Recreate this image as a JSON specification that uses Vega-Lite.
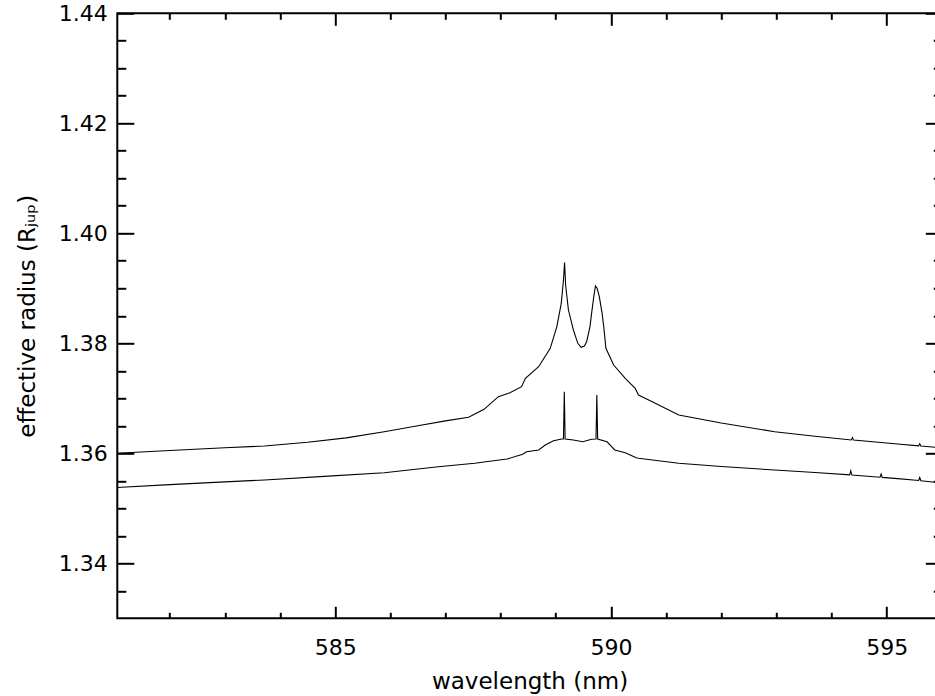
{
  "$schema": "https://vega.github.io/schema/vega-lite/v6.json",
  "width": 824.5,
  "height": 605,
  "autosize": {"type": "none"},
  "padding": {"left": 117.3, "top": 13.3, "right": -6.8, "bottom": 77.7},
  "background": "white",
  "config": {
    "view": {"stroke": "black", "strokeWidth": 2},
    "axis": {
      "domain": false, "grid": false, "tickColor": "black", "tickWidth": 2,
      "labelColor": "black", "titleColor": "black",
      "labelFont": "DejaVu Sans", "titleFont": "DejaVu Sans",
      "labelFontSize": 22, "titleFontSize": 23, "titleFontWeight": "normal",
      "labelFlush": false, "labelOverlap": false
    }
  },
  "data": {
    "values": [
      {"s": "a", "wl": 581.0, "r": 1.3600},
      {"s": "a", "wl": 582.0, "r": 1.3605},
      {"s": "a", "wl": 583.0, "r": 1.3610},
      {"s": "a", "wl": 583.72, "r": 1.36133},
      {"s": "a", "wl": 584.5, "r": 1.3620},
      {"s": "a", "wl": 585.2, "r": 1.3628},
      {"s": "a", "wl": 585.89, "r": 1.36393},
      {"s": "a", "wl": 586.5, "r": 1.3650},
      {"s": "a", "wl": 587.0, "r": 1.3659},
      {"s": "a", "wl": 587.42, "r": 1.36655},
      {"s": "a", "wl": 587.7, "r": 1.3680},
      {"s": "a", "wl": 587.96, "r": 1.37029},
      {"s": "a", "wl": 588.17, "r": 1.3710},
      {"s": "a", "wl": 588.38, "r": 1.37211},
      {"s": "a", "wl": 588.45, "r": 1.37364},
      {"s": "a", "wl": 588.69, "r": 1.37575},
      {"s": "a", "wl": 588.9, "r": 1.37909},
      {"s": "a", "wl": 589.02, "r": 1.38302},
      {"s": "a", "wl": 589.10, "r": 1.38727},
      {"s": "a", "wl": 589.14, "r": 1.3915},
      {"s": "a", "wl": 589.16, "r": 1.3947},
      {"s": "a", "wl": 589.18, "r": 1.3905},
      {"s": "a", "wl": 589.23, "r": 1.38605},
      {"s": "a", "wl": 589.32, "r": 1.38242},
      {"s": "a", "wl": 589.40, "r": 1.3800},
      {"s": "a", "wl": 589.46, "r": 1.37927},
      {"s": "a", "wl": 589.52, "r": 1.3795},
      {"s": "a", "wl": 589.56, "r": 1.38029},
      {"s": "a", "wl": 589.62, "r": 1.3830},
      {"s": "a", "wl": 589.65, "r": 1.38545},
      {"s": "a", "wl": 589.69, "r": 1.3885},
      {"s": "a", "wl": 589.72, "r": 1.39042},
      {"s": "a", "wl": 589.75, "r": 1.3900},
      {"s": "a", "wl": 589.79, "r": 1.38847},
      {"s": "a", "wl": 589.84, "r": 1.3855},
      {"s": "a", "wl": 589.87, "r": 1.38302},
      {"s": "a", "wl": 589.91, "r": 1.37909},
      {"s": "a", "wl": 590.05, "r": 1.37605},
      {"s": "a", "wl": 590.26, "r": 1.37364},
      {"s": "a", "wl": 590.44, "r": 1.37182},
      {"s": "a", "wl": 590.50, "r": 1.3706},
      {"s": "a", "wl": 590.75, "r": 1.36938},
      {"s": "a", "wl": 591.23, "r": 1.36696},
      {"s": "a", "wl": 592.0, "r": 1.3655},
      {"s": "a", "wl": 592.97, "r": 1.36393},
      {"s": "a", "wl": 593.7, "r": 1.3631},
      {"s": "a", "wl": 594.36, "r": 1.36243},
      {"s": "a", "wl": 594.38, "r": 1.36285},
      {"s": "a", "wl": 594.40, "r": 1.36240},
      {"s": "a", "wl": 595.2, "r": 1.3617},
      {"s": "a", "wl": 595.58, "r": 1.36135},
      {"s": "a", "wl": 595.60, "r": 1.36175},
      {"s": "a", "wl": 595.62, "r": 1.36133},
      {"s": "a", "wl": 596.0, "r": 1.3610},
      {"s": "b", "wl": 581.0, "r": 1.35375},
      {"s": "b", "wl": 582.0, "r": 1.3543},
      {"s": "b", "wl": 583.0, "r": 1.3548},
      {"s": "b", "wl": 583.72, "r": 1.35515},
      {"s": "b", "wl": 584.8, "r": 1.3558},
      {"s": "b", "wl": 585.89, "r": 1.35647},
      {"s": "b", "wl": 586.87, "r": 1.35756},
      {"s": "b", "wl": 587.53, "r": 1.35818},
      {"s": "b", "wl": 588.08, "r": 1.35891},
      {"s": "b", "wl": 588.12, "r": 1.35896},
      {"s": "b", "wl": 588.40, "r": 1.35982},
      {"s": "b", "wl": 588.47, "r": 1.36029},
      {"s": "b", "wl": 588.69, "r": 1.3606},
      {"s": "b", "wl": 588.81, "r": 1.36151},
      {"s": "b", "wl": 588.96, "r": 1.36229},
      {"s": "b", "wl": 589.11, "r": 1.3626},
      {"s": "b", "wl": 589.14, "r": 1.3626},
      {"s": "b", "wl": 589.155, "r": 1.3712},
      {"s": "b", "wl": 589.17, "r": 1.3626},
      {"s": "b", "wl": 589.32, "r": 1.36242},
      {"s": "b", "wl": 589.49, "r": 1.3621},
      {"s": "b", "wl": 589.65, "r": 1.36255},
      {"s": "b", "wl": 589.73, "r": 1.3626},
      {"s": "b", "wl": 589.745, "r": 1.3706},
      {"s": "b", "wl": 589.76, "r": 1.3626},
      {"s": "b", "wl": 589.93, "r": 1.3621},
      {"s": "b", "wl": 590.07, "r": 1.3606},
      {"s": "b", "wl": 590.26, "r": 1.36011},
      {"s": "b", "wl": 590.46, "r": 1.3592},
      {"s": "b", "wl": 590.50, "r": 1.35909},
      {"s": "b", "wl": 591.23, "r": 1.35818},
      {"s": "b", "wl": 592.0, "r": 1.3576},
      {"s": "b", "wl": 592.97, "r": 1.35696},
      {"s": "b", "wl": 593.7, "r": 1.3565},
      {"s": "b", "wl": 594.33, "r": 1.35608},
      {"s": "b", "wl": 594.35, "r": 1.35680},
      {"s": "b", "wl": 594.37, "r": 1.35605},
      {"s": "b", "wl": 594.88, "r": 1.35565},
      {"s": "b", "wl": 594.90, "r": 1.35625},
      {"s": "b", "wl": 594.92, "r": 1.35562},
      {"s": "b", "wl": 595.2, "r": 1.3554},
      {"s": "b", "wl": 595.58, "r": 1.35505},
      {"s": "b", "wl": 595.60, "r": 1.35560},
      {"s": "b", "wl": 595.62, "r": 1.35502},
      {"s": "b", "wl": 596.0, "r": 1.3546}
    ]
  },
  "layer": [
    {
      "mark": {"type": "line", "color": "black", "strokeWidth": 1.1, "clip": true},
      "encoding": {
        "x": {"field": "wl", "type": "quantitative",
          "scale": {"domain": [581.05, 596], "nice": false, "zero": false},
          "axis": {"orient": "bottom", "offset": -12, "tickSize": 12, "values": [585, 590, 595],
            "labelPadding": 19, "title": "wavelength (nm)", "titlePadding": 12}},
        "y": {"field": "r", "type": "quantitative",
          "scale": {"domain": [1.33, 1.44], "nice": false, "zero": false},
          "axis": {"orient": "left", "offset": -16.5, "tickSize": 16.5,
            "values": [1.34, 1.36, 1.38, 1.40, 1.42, 1.44], "format": ".2f",
            "labelPadding": 10, "title": "effective radius (Rⱼᵤₚ)", "titlePadding": 19}},
        "detail": {"field": "s", "type": "nominal"}
      }
    },
    {
      "mark": {"type": "line", "opacity": 0},
      "encoding": {
        "x": {"field": "wl", "type": "quantitative",
          "scale": {"domain": [581.05, 596], "nice": false, "zero": false},
          "axis": {"orient": "bottom", "offset": -6, "tickSize": 6, "labels": false, "title": null,
            "values": [582, 583, 584, 586, 587, 588, 589, 591, 592, 593, 594]}},
        "y": {"field": "r", "type": "quantitative",
          "scale": {"domain": [1.33, 1.44], "nice": false, "zero": false},
          "axis": {"orient": "left", "offset": -8.5, "tickSize": 8.5, "labels": false, "title": null,
            "values": [1.335, 1.345, 1.35, 1.355, 1.365, 1.37, 1.375, 1.385, 1.39, 1.395, 1.405, 1.41, 1.415, 1.425, 1.43, 1.435]}},
        "detail": {"field": "s", "type": "nominal"}
      }
    },
    {
      "mark": {"type": "line", "opacity": 0},
      "encoding": {
        "x": {"field": "wl", "type": "quantitative",
          "scale": {"domain": [581.05, 596], "nice": false, "zero": false},
          "axis": {"orient": "top", "offset": -12, "tickSize": 12, "labels": false, "title": null,
            "values": [585, 590, 595]}},
        "y": {"field": "r", "type": "quantitative",
          "scale": {"domain": [1.33, 1.44], "nice": false, "zero": false},
          "axis": {"orient": "right", "offset": -16.5, "tickSize": 16.5, "labels": false, "title": null,
            "values": [1.34, 1.36, 1.38, 1.40, 1.42, 1.44]}},
        "detail": {"field": "s", "type": "nominal"}
      }
    },
    {
      "mark": {"type": "line", "opacity": 0},
      "encoding": {
        "x": {"field": "wl", "type": "quantitative",
          "scale": {"domain": [581.05, 596], "nice": false, "zero": false},
          "axis": {"orient": "top", "offset": -6, "tickSize": 6, "labels": false, "title": null,
            "values": [582, 583, 584, 586, 587, 588, 589, 591, 592, 593, 594]}},
        "y": {"field": "r", "type": "quantitative",
          "scale": {"domain": [1.33, 1.44], "nice": false, "zero": false},
          "axis": {"orient": "right", "offset": -8.5, "tickSize": 8.5, "labels": false, "title": null,
            "values": [1.335, 1.345, 1.35, 1.355, 1.365, 1.37, 1.375, 1.385, 1.39, 1.395, 1.405, 1.41, 1.415, 1.425, 1.43, 1.435]}},
        "detail": {"field": "s", "type": "nominal"}
      }
    }
  ],
  "resolve": {"axis": {"x": "independent", "y": "independent"}}
}
